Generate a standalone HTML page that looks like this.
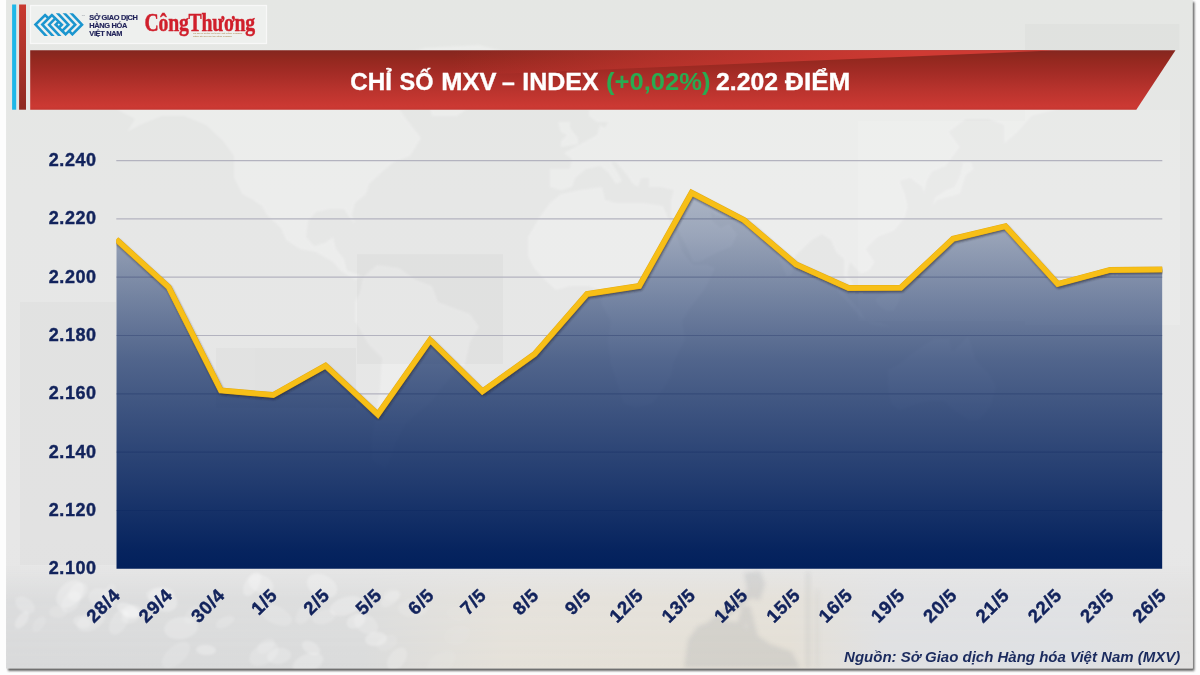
<!DOCTYPE html>
<html lang="vi">
<head>
<meta charset="utf-8">
<title>Chỉ số MXV – Index</title>
<style>
html,body{margin:0;padding:0;background:#fdfdfd;}
body{width:1200px;height:675px;overflow:hidden;position:relative;font-family:"Liberation Sans",sans-serif;}
svg{position:absolute;left:0;top:0;display:block;}
.sans{font-family:"Liberation Sans",sans-serif;}
.serif{font-family:"Liberation Serif",serif;}
</style>
</head>
<body>
<svg width="1200" height="675" viewBox="0 0 1200 675">
<defs>
<linearGradient id="pg" x1="0" y1="0" x2="0" y2="1">
<stop offset="0" stop-color="#e5e7e4"/><stop offset="0.3" stop-color="#e6e7e6"/><stop offset="0.8" stop-color="#e7e7e7"/><stop offset="1" stop-color="#e6e6e6"/>
</linearGradient>
<linearGradient id="bn" x1="0" y1="0" x2="0" y2="1">
<stop offset="0" stop-color="#84261f"/><stop offset="0.15" stop-color="#93281f"/><stop offset="0.4" stop-color="#a52c26"/><stop offset="0.65" stop-color="#b8332d"/><stop offset="0.95" stop-color="#cc3933"/><stop offset="1" stop-color="#c43631"/>
</linearGradient>
<linearGradient id="wedge" x1="0" y1="0" x2="1" y2="0">
<stop offset="0.41" stop-color="#cf3a33" stop-opacity="0"/><stop offset="0.61" stop-color="#cf3a33" stop-opacity="0.5"/><stop offset="0.86" stop-color="#cf3a33" stop-opacity="1"/><stop offset="1" stop-color="#cf3a33" stop-opacity="1"/>
</linearGradient>
<linearGradient id="rb" x1="0" y1="0" x2="0" y2="1">
<stop offset="0" stop-color="#c93a30"/><stop offset="1" stop-color="#8e2a22"/>
</linearGradient>
<linearGradient id="ar" gradientUnits="userSpaceOnUse" x1="0" y1="190" x2="0" y2="568.8">
<stop offset="0" stop-color="#02205c" stop-opacity="0.27"/>
<stop offset="0.121" stop-color="#02205c" stop-opacity="0.35"/>
<stop offset="0.29" stop-color="#02205c" stop-opacity="0.51"/>
<stop offset="0.449" stop-color="#02205c" stop-opacity="0.655"/>
<stop offset="0.607" stop-color="#02205c" stop-opacity="0.76"/>
<stop offset="0.766" stop-color="#02205c" stop-opacity="0.86"/>
<stop offset="0.95" stop-color="#02205c" stop-opacity="0.98"/>
<stop offset="1" stop-color="#02205c" stop-opacity="1"/>
</linearGradient>
<filter id="ls" x="-5%" y="-5%" width="110%" height="115%"><feGaussianBlur stdDeviation="1.2"/></filter>
<filter id="mb" x="-5%" y="-5%" width="110%" height="110%"><feGaussianBlur stdDeviation="1"/></filter>
<filter id="mb2" x="-10%" y="-10%" width="120%" height="120%"><feGaussianBlur stdDeviation="2.2"/></filter>
<filter id="ps" x="-5%" y="-5%" width="110%" height="110%"><feGaussianBlur stdDeviation="1.3"/></filter>
<linearGradient id="bh" x1="0" y1="0" x2="1" y2="0">
<stop offset="0" stop-color="#d8d9da"/><stop offset="0.3" stop-color="#dadbdb"/><stop offset="0.42" stop-color="#e5e1d9"/><stop offset="0.66" stop-color="#e4dfd5"/><stop offset="0.74" stop-color="#dfe0e2"/><stop offset="0.9" stop-color="#dee0e3"/><stop offset="1" stop-color="#e0dfde"/>
</linearGradient>
<linearGradient id="bv" x1="0" y1="0" x2="0" y2="1">
<stop offset="0.05" stop-color="#fff" stop-opacity="0"/><stop offset="0.35" stop-color="#fff" stop-opacity="0.75"/><stop offset="1" stop-color="#fff" stop-opacity="1"/>
</linearGradient>
<mask id="bm"><rect x="0" y="560" width="1200" height="115" fill="url(#bv)"/></mask>
</defs>

<!-- page -->
<rect x="8" y="2" width="1186.3" height="668.8" fill="#333333" opacity="0.8" filter="url(#ps)"/>
<rect x="6.1" y="-2" width="1186.7" height="670.4" fill="url(#pg)"/>

<rect x="6.1" y="560" width="1186.7" height="108.4" fill="url(#bh)" mask="url(#bm)"/>

<!-- faint world map -->
<clipPath id="pgc"><rect x="6.1" y="0" width="1186.7" height="668.4"/></clipPath>
<g clip-path="url(#pgc)"><g fill="#ffffff" opacity="0.26" filter="url(#mb)">
<polygon points="113,97 130,85 162,82 190,85 223,82 259,73 300,70 328,66 350,73 360,85 388,91 404,116 421,138 410,156 394,162 382,172 369,184 366,194 355,203 352,215 355,224 350,218 344,209 330,209 316,212 308,221 306,237 314,246 325,243 333,237 336,249 344,259 347,271 358,274 363,277 355,280 341,271 333,262 316,252 300,249 286,240 281,228 267,215 262,206 253,200 242,194 234,178 234,156 223,141 206,125 184,116 162,116 140,125 127,132 135,119 118,110"/>
<polygon points="432,116 457,116 492,91 520,73 514,54 479,45 424,48 388,60 416,73 426,91"/>
<polygon points="363,277 377,265 399,268 416,280 432,286 438,302 454,308 470,314 479,327 470,342 465,364 454,373 443,386 429,404 416,414 404,426 396,442 391,457 385,469 372,460 372,438 377,410 380,389 382,358 369,345 355,321 355,302 360,293"/>
<polygon points="528,256 528,237 539,218 550,203 561,194 580,190 602,187 605,200 616,203 630,203 644,203 663,206 668,218 677,237 682,252 693,265 707,265 715,268 704,290 690,308 682,321 685,339 674,361 671,376 663,389 652,404 636,407 624,404 619,389 611,364 608,342 611,321 602,305 600,290 589,286 570,286 556,290 545,280 534,268"/>
<polygon points="550,187 550,169 570,169 572,159 564,153 575,147 586,141 597,135 600,125 605,128 608,122 597,122 589,116 589,110 602,104 614,91 630,85 649,82 663,85 685,94 696,91 718,88 740,88 762,79 781,79 800,73 836,66 861,60 883,70 919,76 946,79 988,82 1020,85 1048,88 1070,94 1070,104 1056,110 1032,116 1018,132 1004,144 1004,125 988,119 966,119 949,132 960,147 946,166 932,172 927,181 924,194 922,187 910,178 900,181 905,194 908,206 905,218 894,231 878,237 872,243 866,249 875,262 869,271 861,274 850,262 847,274 858,293 853,293 844,277 844,259 836,252 831,240 822,234 812,240 795,256 792,274 787,277 778,256 773,240 765,234 756,224 740,224 729,218 715,215 710,209 712,221 721,228 729,224 737,234 732,246 718,252 699,262 693,262 688,249 680,234 671,215 671,200 674,190 660,187 649,187 649,178 641,178 638,187 633,184 627,175 616,162 611,162 619,175 622,181 616,184 608,172 600,166 586,169 575,178 572,187 561,190"/>
<polygon points="932,206 938,200 949,197 960,194 963,184 966,175 974,169 971,162 963,162 960,175 954,187 946,190 935,197"/>
<polygon points="561,147 578,144 578,138 570,128 570,122 558,122 561,132 567,135 561,141"/>
<polygon points="888,370 900,364 910,355 924,345 935,339 949,339 952,352 963,342 968,336 976,361 988,373 996,386 990,407 979,420 968,420 954,410 944,401 930,401 916,404 900,410 891,404 888,386"/>
<polygon points="836,286 847,296 861,311 866,321 883,324 891,327 872,324 861,318 850,305 839,293"/>
<polygon points="875,299 886,293 897,283 902,286 900,299 894,311 886,311 878,305"/>
</g>
<g fill="#ffffff" opacity="0.12">
<rect x="858" y="121" width="167" height="200"/><rect x="1025" y="110" width="155" height="215"/>
</g>
<rect x="1025" y="24" width="154.5" height="26.2" fill="#70756c" opacity="0.035"/>
<g fill="#8a8a8a" opacity="0.05">
<rect x="357" y="254" width="146" height="110"/><rect x="20" y="302" width="96" height="263"/><rect x="216" y="348" width="140" height="60"/>
</g></g>

<g fill="#ffffff" filter="url(#mb)" clip-path="url(#pgc)">
<ellipse cx="160" cy="594" rx="14" ry="7" transform="rotate(-6 160 594)" opacity="0.17"/>
<ellipse cx="39" cy="624" rx="9" ry="5" transform="rotate(-53 39 624)" opacity="0.12"/>
<ellipse cx="206" cy="650" rx="10" ry="5" transform="rotate(3 206 650)" opacity="0.27"/>
<ellipse cx="276" cy="615" rx="17" ry="9" transform="rotate(26 276 615)" opacity="0.15"/>
<ellipse cx="78" cy="592" rx="11" ry="8" transform="rotate(-42 78 592)" opacity="0.20"/>
<ellipse cx="305" cy="613" rx="13" ry="7" transform="rotate(-54 305 613)" opacity="0.14"/>
<ellipse cx="324" cy="617" rx="12" ry="7" transform="rotate(-15 324 617)" opacity="0.15"/>
<ellipse cx="376" cy="639" rx="11" ry="7" transform="rotate(-7 376 639)" opacity="0.26"/>
<ellipse cx="346" cy="606" rx="17" ry="9" transform="rotate(-18 346 606)" opacity="0.24"/>
<ellipse cx="82" cy="622" rx="9" ry="6" transform="rotate(16 82 622)" opacity="0.20"/>
<ellipse cx="413" cy="608" rx="15" ry="9" transform="rotate(-2 413 608)" opacity="0.12"/>
<ellipse cx="397" cy="659" rx="13" ry="8" transform="rotate(-54 397 659)" opacity="0.18"/>
<ellipse cx="308" cy="663" rx="16" ry="9" transform="rotate(-21 308 663)" opacity="0.22"/>
<ellipse cx="22" cy="620" rx="10" ry="5" transform="rotate(-54 22 620)" opacity="0.24"/>
<ellipse cx="71" cy="602" rx="12" ry="8" transform="rotate(-52 71 602)" opacity="0.18"/>
<ellipse cx="264" cy="654" rx="16" ry="10" transform="rotate(-32 264 654)" opacity="0.17"/>
<ellipse cx="176" cy="655" rx="17" ry="9" transform="rotate(-42 176 655)" opacity="0.14"/>
<ellipse cx="119" cy="622" rx="14" ry="8" transform="rotate(-60 119 622)" opacity="0.18"/>
<ellipse cx="181" cy="628" rx="17" ry="11" transform="rotate(-8 181 628)" opacity="0.21"/>
<ellipse cx="322" cy="586" rx="16" ry="11" transform="rotate(27 322 586)" opacity="0.24"/>
<ellipse cx="192" cy="615" rx="10" ry="6" transform="rotate(-54 192 615)" opacity="0.11"/>
<ellipse cx="108" cy="595" rx="12" ry="6" transform="rotate(-60 108 595)" opacity="0.13"/>
<ellipse cx="58" cy="612" rx="9" ry="6" transform="rotate(1 58 612)" opacity="0.13"/>
<ellipse cx="128" cy="610" rx="12" ry="6" transform="rotate(25 128 610)" opacity="0.28"/>
<ellipse cx="225" cy="622" rx="10" ry="5" transform="rotate(-26 225 622)" opacity="0.15"/>
<ellipse cx="392" cy="595" rx="9" ry="6" transform="rotate(-7 392 595)" opacity="0.11"/>
<ellipse cx="261" cy="584" rx="13" ry="9" transform="rotate(26 261 584)" opacity="0.23"/>
<ellipse cx="132" cy="612" rx="10" ry="7" transform="rotate(-7 132 612)" opacity="0.24"/>
<ellipse cx="163" cy="600" rx="15" ry="11" transform="rotate(25 163 600)" opacity="0.25"/>
<ellipse cx="387" cy="643" rx="11" ry="7" transform="rotate(-24 387 643)" opacity="0.10"/>
<ellipse cx="25" cy="605" rx="11" ry="7" transform="rotate(36 25 605)" opacity="0.18"/>
<ellipse cx="441" cy="663" rx="17" ry="10" transform="rotate(-38 441 663)" opacity="0.05"/>
<ellipse cx="102" cy="599" rx="14" ry="10" transform="rotate(24 102 599)" opacity="0.19"/>
<ellipse cx="311" cy="648" rx="10" ry="6" transform="rotate(31 311 648)" opacity="0.24"/>
<ellipse cx="356" cy="621" rx="10" ry="7" transform="rotate(-27 356 621)" opacity="0.24"/>
<ellipse cx="457" cy="614" rx="12" ry="8" transform="rotate(12 457 614)" opacity="0.02"/>
<ellipse cx="70" cy="594" rx="16" ry="11" transform="rotate(-45 70 594)" opacity="0.25"/>
<ellipse cx="461" cy="636" rx="12" ry="7" transform="rotate(-47 461 636)" opacity="0.01"/>
<ellipse cx="457" cy="635" rx="13" ry="9" transform="rotate(-17 457 635)" opacity="0.04"/>
<ellipse cx="390" cy="599" rx="11" ry="6" transform="rotate(-36 390 599)" opacity="0.18"/>
<ellipse cx="131" cy="616" rx="10" ry="7" transform="rotate(-25 131 616)" opacity="0.18"/>
<ellipse cx="279" cy="656" rx="12" ry="8" transform="rotate(-10 279 656)" opacity="0.20"/>
<ellipse cx="252" cy="584" rx="13" ry="7" transform="rotate(-60 252 584)" opacity="0.24"/>
<ellipse cx="91" cy="621" rx="15" ry="9" transform="rotate(-27 91 621)" opacity="0.19"/>
<ellipse cx="266" cy="646" rx="10" ry="6" transform="rotate(-35 266 646)" opacity="0.15"/>
<ellipse cx="366" cy="624" rx="13" ry="9" transform="rotate(31 366 624)" opacity="0.18"/>
</g>

<g fill="#8f959d" opacity="0.2" filter="url(#mb2)" clip-path="url(#pgc)">
<polygon points="684,668 688,640 698,626 716,620 738,622 752,632 770,644 792,652 800,668"/>
<polygon points="698,630 703,636 764,588 759,581"/>
<polygon points="744,573 760,571 765,584 760,600 749,598"/>
<polygon points="726,668 742,606 750,606 766,668 758,668 746,622 734,668"/>
<rect x="806" y="572" width="4" height="96" opacity="0.7"/><rect x="816" y="590" width="2.5" height="78" opacity="0.6"/>
</g>

<!-- left bars -->
<rect x="12.1" y="4.5" width="4.1" height="105.2" fill="#1fb7e8"/>
<rect x="19.1" y="4.5" width="6.9" height="105.2" fill="url(#rb)"/>

<!-- logo box -->
<rect x="30.5" y="5.5" width="236" height="38" fill="#eef0ee" stroke="#f8f8f8" stroke-width="1.2"/>

<!-- banner -->
<polygon points="30.2,50.2 1175.5,50.2 1136.3,109.8 30.2,109.8" fill="url(#bn)"/>
<polygon points="30.2,50.2 1060,50.2 30.2,93.5" fill="url(#wedge)"/>

<!-- MXV logo -->
<clipPath id="lc"><rect x="30" y="13.3" width="60" height="22.7"/></clipPath>
<g clip-path="url(#lc)"><g fill="none" stroke="#1b96cf" stroke-width="2.6" stroke-linejoin="miter" stroke-miterlimit="4">
<path d="M47.1,37 L35.5,24.65 L45.1,15 L48.5,18.4"/>
<path d="M53.9,37 L42.3,24.65 L51.9,15 L61.85,24.65 L58.75,27.75"/>
<path d="M60.7,37 L49.1,24.65 L55.3,18.4"/>
</g>
<g transform="rotate(180 58.75 24.65)" fill="none" stroke="#1b96cf" stroke-width="2.6" stroke-linejoin="miter" stroke-miterlimit="4">
<path d="M47.1,37 L35.5,24.65 L45.1,15 L48.5,18.4"/>
<path d="M53.9,37 L42.3,24.65 L51.9,15 L61.85,24.65 L58.75,27.75"/>
<path d="M60.7,37 L49.1,24.65 L55.3,18.4"/>
</g></g>
<text class="sans" x="81.8" y="16.2" font-size="2.2" fill="#8a8f98">TM</text>
<g class="sans" font-weight="700" font-size="7.4" fill="#22245a" stroke="#22245a" stroke-width="0.15" letter-spacing="-0.33">
<text x="89.3" y="20">SỞ GIAO DỊCH</text>
<text x="89.3" y="28.2">HÀNG HÓA</text>
<text x="89.3" y="36.3">VIỆT NAM</text>
</g>
<text class="serif" transform="translate(144.6,31) scale(0.79,1)" font-weight="700" font-size="25" fill="#d01f2b" stroke="#d01f2b" stroke-width="0.45" letter-spacing="-0.3">CôngThương</text>
<g class="sans" font-size="2.1" fill="#b3925e" font-weight="700"><text x="193" y="34.4" textLength="49.4" lengthAdjust="spacingAndGlyphs">CƠ QUAN NGÔN LUẬN CỦA BỘ CÔNG THƯƠNG</text><text x="193" y="36.8" textLength="39" lengthAdjust="spacingAndGlyphs">TIẾNG NÓI CỦA NGÀNH CÔNG THƯƠNG</text></g>

<!-- title -->
<g class="sans" font-weight="700" font-size="24" fill="#ffffff" stroke="#ffffff" stroke-width="0.35">
<text id="tw0" x="350.20" y="89.5" textLength="41.70" lengthAdjust="spacingAndGlyphs">CHỈ</text>
<text id="tw1" x="399.50" y="89.5" textLength="33.90" lengthAdjust="spacingAndGlyphs">SỐ</text>
<text id="tw2" x="441.30" y="89.5" textLength="55.10" lengthAdjust="spacingAndGlyphs">MXV</text>
<text id="tw3" x="502.00" y="89.5" textLength="12.80" lengthAdjust="spacingAndGlyphs">–</text>
<text id="tw4" x="522.30" y="89.5" textLength="76.40" lengthAdjust="spacingAndGlyphs">INDEX</text>
<text id="tw5" x="606.00" y="89.5" textLength="104.40" lengthAdjust="spacingAndGlyphs" fill="#2aab51" stroke="none">(+0,02%)</text>
<text id="tw6" x="716.00" y="89.5" textLength="61.90" lengthAdjust="spacingAndGlyphs">2.202</text>
<text id="tw7" x="785.00" y="89.5" textLength="65.40" lengthAdjust="spacingAndGlyphs">ĐIỂM</text>
</g>

<!-- grid -->
<g stroke="#b3b3bf" stroke-width="1.2">
<line x1="116.3" x2="1162.3" y1="160.6" y2="160.6"/>
<line x1="116.3" x2="1162.3" y1="218.9" y2="218.9"/>
<line x1="116.3" x2="1162.3" y1="277.2" y2="277.2"/>
<line x1="116.3" x2="1162.3" y1="335.5" y2="335.5"/>
<line x1="116.3" x2="1162.3" y1="393.9" y2="393.9"/>
<line x1="116.3" x2="1162.3" y1="452.2" y2="452.2"/>
<line x1="116.3" x2="1162.3" y1="510.5" y2="510.5"/>
</g>

<clipPath id="pc"><rect x="116.3" y="120" width="1046.3" height="460"/></clipPath>
<!-- area -->
<g clip-path="url(#pc)">
<polygon points="116.3,568.8 116.3,239.5 168.6,287.0 220.9,390.5 273.2,395.0 325.5,365.7 377.8,414.5 430.1,340.0 482.4,391.4 534.7,354.0 587.0,294.0 639.3,286.0 691.6,192.8 743.9,220.0 796.2,264.5 848.5,288.0 900.8,287.7 953.1,238.8 1005.4,226.2 1057.7,284.0 1110.0,270.0 1162.3,269.5 1162.3,568.8" fill="url(#ar)"/>
<g stroke="#1a2f66" stroke-width="1" opacity="0.35">
</g>
<polyline points="116.3,239.5 168.6,287.0 220.9,390.5 273.2,395.0 325.5,365.7 377.8,414.5 430.1,340.0 482.4,391.4 534.7,354.0 587.0,294.0 639.3,286.0 691.6,192.8 743.9,220.0 796.2,264.5 848.5,288.0 900.8,287.7 953.1,238.8 1005.4,226.2 1057.7,284.0 1110.0,270.0 1162.3,269.5" fill="none" stroke="#2a2a30" stroke-opacity="0.6" stroke-width="5.4" stroke-linejoin="round" transform="translate(0.8,1.8)" filter="url(#ls)"/>
<polyline points="116.3,239.5 168.6,287.0 220.9,390.5 273.2,395.0 325.5,365.7 377.8,414.5 430.1,340.0 482.4,391.4 534.7,354.0 587.0,294.0 639.3,286.0 691.6,192.8 743.9,220.0 796.2,264.5 848.5,288.0 900.8,287.7 953.1,238.8 1005.4,226.2 1057.7,284.0 1110.0,270.0 1162.3,269.5" fill="none" stroke="#e6ad11" stroke-width="5.9" stroke-linejoin="miter" stroke-linecap="butt"/>
<polyline points="116.3,239.5 168.6,287.0 220.9,390.5 273.2,395.0 325.5,365.7 377.8,414.5 430.1,340.0 482.4,391.4 534.7,354.0 587.0,294.0 639.3,286.0 691.6,192.8 743.9,220.0 796.2,264.5 848.5,288.0 900.8,287.7 953.1,238.8 1005.4,226.2 1057.7,284.0 1110.0,270.0 1162.3,269.5" fill="none" stroke="#f7bf17" stroke-width="5.0" stroke-linejoin="miter" stroke-linecap="butt"/>

</g>
<!-- y labels -->
<g class="sans" font-weight="700" font-size="18" fill="#12235c" stroke="#12235c" stroke-width="0.4" text-anchor="end" letter-spacing="0.55">
<text x="96.6" y="165.9">2.240</text>
<text x="96.6" y="224.2">2.220</text>
<text x="96.6" y="282.5">2.200</text>
<text x="96.6" y="340.8">2.180</text>
<text x="96.6" y="399.2">2.160</text>
<text x="96.6" y="457.5">2.140</text>
<text x="96.6" y="515.8">2.120</text>
<text x="96.6" y="574.1">2.100</text>
</g>
<!-- x labels -->
<g class="sans" font-weight="700" font-size="18.4" fill="#12235c" stroke="#12235c" stroke-width="0.45" text-anchor="end" letter-spacing="0.75">
<text transform="translate(121.5,596.2) rotate(-45)">28/4</text>
<text transform="translate(173.8,596.2) rotate(-45)">29/4</text>
<text transform="translate(226.1,596.2) rotate(-45)">30/4</text>
<text transform="translate(278.4,596.2) rotate(-45)">1/5</text>
<text transform="translate(330.7,596.2) rotate(-45)">2/5</text>
<text transform="translate(383.0,596.2) rotate(-45)">5/5</text>
<text transform="translate(435.3,596.2) rotate(-45)">6/5</text>
<text transform="translate(487.6,596.2) rotate(-45)">7/5</text>
<text transform="translate(539.9,596.2) rotate(-45)">8/5</text>
<text transform="translate(592.2,596.2) rotate(-45)">9/5</text>
<text transform="translate(644.5,596.2) rotate(-45)">12/5</text>
<text transform="translate(696.8,596.2) rotate(-45)">13/5</text>
<text transform="translate(749.1,596.2) rotate(-45)">14/5</text>
<text transform="translate(801.4,596.2) rotate(-45)">15/5</text>
<text transform="translate(853.7,596.2) rotate(-45)">16/5</text>
<text transform="translate(906.0,596.2) rotate(-45)">19/5</text>
<text transform="translate(958.3,596.2) rotate(-45)">20/5</text>
<text transform="translate(1010.6,596.2) rotate(-45)">21/5</text>
<text transform="translate(1062.9,596.2) rotate(-45)">22/5</text>
<text transform="translate(1115.2,596.2) rotate(-45)">23/5</text>
<text transform="translate(1167.5,596.2) rotate(-45)">26/5</text>
</g>

<text class="sans" x="1180.3" y="662.3" font-weight="700" font-style="italic" font-size="15" fill="#1b2b5e" text-anchor="end">Nguồn: Sở Giao dịch Hàng hóa Việt Nam (MXV)</text>
</svg>
</body>
</html>
